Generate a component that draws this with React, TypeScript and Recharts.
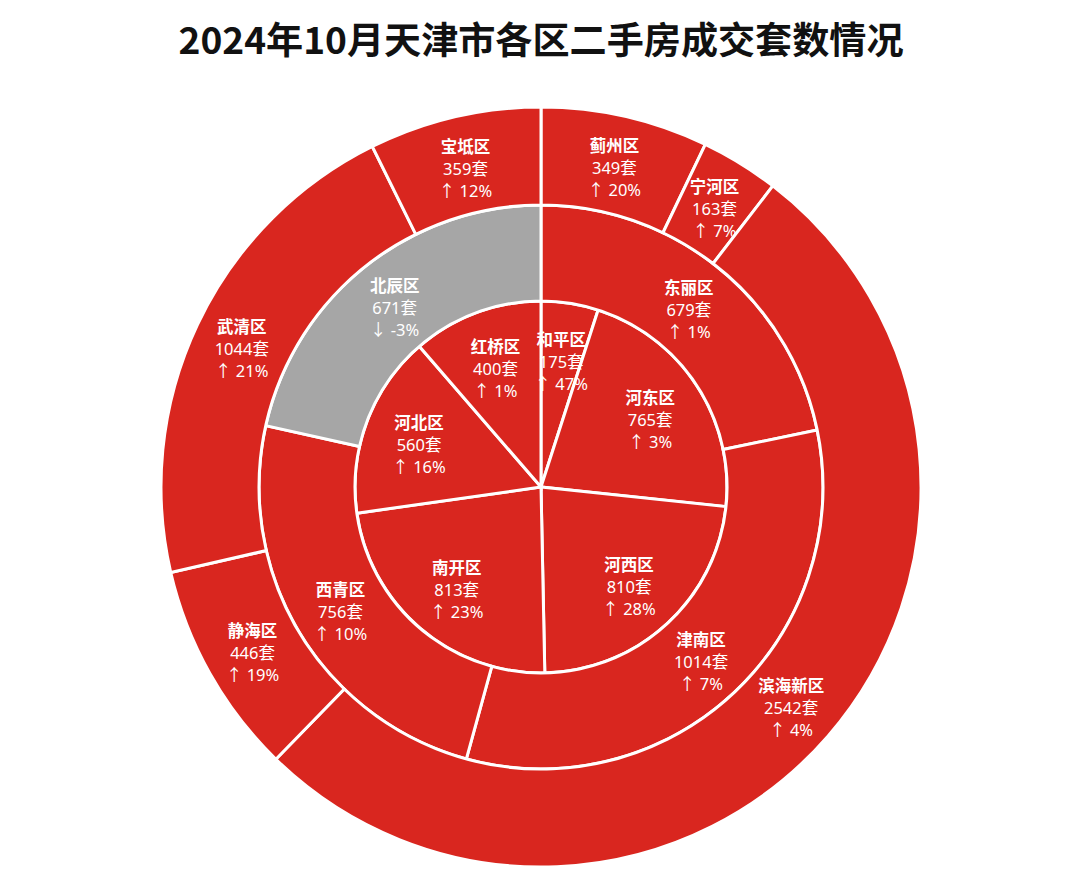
import { PieChart, Pie, Cell } from 'recharts';

const TITLE = '2024年10月天津市各区二手房成交套数情况';

// inner ring (市内六区), clockwise from 12 o'clock
const innerNames = ['和平区', '河东区', '河西区', '南开区', '河北区', '红桥区'];
const innerValues = [175, 765, 810, 813, 560, 400];
const innerChanges = ['↑ 47%', '↑ 3%', '↑ 28%', '↑ 23%', '↑ 16%', '↑ 1%'];

// middle ring (环城四区)
const middleNames = ['东丽区', '津南区', '西青区', '北辰区'];
const middleValues = [679, 1014, 756, 671];
const middleChanges = ['↑ 1%', '↑ 7%', '↑ 10%', '↓ -3%'];

// outer ring (远郊五区 + 滨海新区)
const outerNames = ['蓟州区', '宁河区', '滨海新区', '静海区', '武清区', '宝坻区'];
const outerValues = [349, 163, 2542, 446, 1044, 359];
const outerChanges = ['↑ 20%', '↑ 7%', '↑ 4%', '↑ 19%', '↑ 21%', '↑ 12%'];

const RED = '#D9261F';
const GRAY = '#A6A6A6';
const TITLE_FONT = '"Noto Sans CJK SC", "Noto Sans", sans-serif';
const LABEL_FONT = '"Noto Sans", "Noto Sans CJK SC", sans-serif';

const toRows = (names: string[], values: number[], changes: string[]) =>
  names.map((name, i) => ({ name, value: values[i], change: changes[i] }));

const innerData = toRows(innerNames, innerValues, innerChanges);
const middleData = toRows(middleNames, middleValues, middleChanges);
const outerData = toRows(outerNames, outerValues, outerChanges);

const RADIAN = Math.PI / 180;
const LINE = 22;

const makeLabel = (ratio: number) => (props: any) => {
  const { cx, cy, midAngle, innerRadius, outerRadius, payload } = props;
  const r = innerRadius + (outerRadius - innerRadius) * ratio;
  const x = cx + r * Math.cos(-midAngle * RADIAN);
  const y = cy + r * Math.sin(-midAngle * RADIAN) + 3;
  const row = payload.payload ?? payload;
  return (
    <text
      x={x}
      y={y - LINE}
      fontFamily={LABEL_FONT}
      fill="#fff"
      textAnchor="middle"
      dominantBaseline="central"
      fontSize={16.5}
    >
      <tspan x={x} fontWeight={700}>
        {row.name}
      </tspan>
      <tspan x={x} dy={LINE}>
        {`${row.value}套`}
      </tspan>
      <tspan x={x} dy={LINE}>
        {row.change}
      </tspan>
    </text>
  );
};

export default function App() {
  const cx = 541;
  const cy = 487;
  return (
    <div style={{ position: 'absolute', left: 0, top: 0, width: 1080, height: 893, background: '#fff' }}>
      <svg width={1080} height={80} style={{ position: 'absolute', left: 0, top: 0 }}>
        <text
          x={541}
          y={38}
          textAnchor="middle"
          dominantBaseline="central"
          fontFamily={TITLE_FONT}
          fontWeight={700}
          fontSize={37}
          fill="#111"
          textLength={725}
          lengthAdjust="spacingAndGlyphs"
        >
          {TITLE}
        </text>
      </svg>
      <div style={{ position: 'absolute', left: 0, top: 0 }}>
        <PieChart width={1080} height={893} margin={{ top: 0, right: 0, bottom: 0, left: 0 }}>
          <Pie
            data={innerData}
            dataKey="value"
            cx={cx}
            cy={cy}
            innerRadius={0}
            outerRadius={186}
            startAngle={90}
            endAngle={-270}
            stroke="#fff"
            strokeWidth={3}
            label={makeLabel(0.7)}
            labelLine={false}
            isAnimationActive={false}
          >
            {innerData.map((d) => (
              <Cell key={d.name} fill={RED} />
            ))}
          </Pie>
          <Pie
            data={middleData}
            dataKey="value"
            cx={cx}
            cy={cy}
            innerRadius={186}
            outerRadius={282}
            startAngle={90}
            endAngle={-270}
            stroke="#fff"
            strokeWidth={3}
            label={makeLabel(0.5)}
            labelLine={false}
            isAnimationActive={false}
          >
            {middleData.map((d) => (
              <Cell key={d.name} fill={d.name === '北辰区' ? GRAY : RED} />
            ))}
          </Pie>
          <Pie
            data={outerData}
            dataKey="value"
            cx={cx}
            cy={cy}
            innerRadius={282}
            outerRadius={380}
            startAngle={90}
            endAngle={-270}
            stroke="#fff"
            strokeWidth={3}
            label={makeLabel(0.5)}
            labelLine={false}
            isAnimationActive={false}
          >
            {outerData.map((d) => (
              <Cell key={d.name} fill={RED} />
            ))}
          </Pie>
        </PieChart>
      </div>
    </div>
  );
}
